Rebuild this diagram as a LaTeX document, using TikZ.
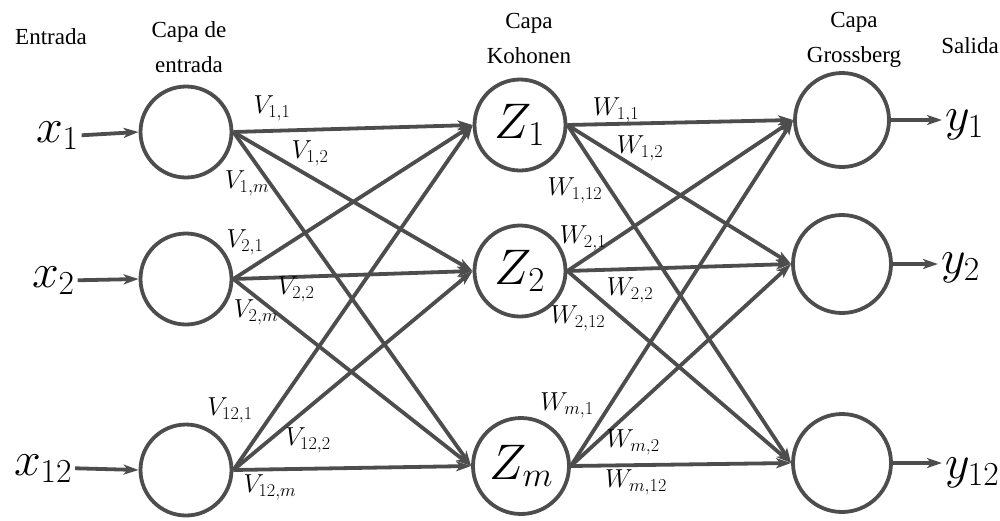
\RequirePackage{fix-cm}
\documentclass[tikz,border=0pt]{standalone}
\usepackage[no-math]{fontspec}
\setmainfont{Liberation Serif}
\usetikzlibrary{arrows.meta}
\definecolor{linec}{HTML}{4D4D4D}
\begin{document}
\begin{tikzpicture}[x=1pt,y=-1pt,
  neuron/.style={circle,draw=linec,line width=3.8pt,minimum size=91pt,inner sep=0pt,font=\fontsize{50}{52}\selectfont},
  conn/.style={draw=linec,line width=3.8pt,-{Stealth[length=15pt,width=10pt,inset=4pt]}},
  big/.style={inner sep=0pt,outer sep=3pt,font=\fontsize{48}{50}\selectfont},
  wlab/.style={inner sep=0pt,font=\fontsize{26}{28}\selectfont},
  txt/.style={inner sep=0pt,align=center,font=\fontsize{23}{35}\selectfont}]
\useasboundingbox (0,0) rectangle (1000,520);
% layer titles
\node[txt] (t0) at (51,37) {Entrada};
\node[txt] (t1) at (189,47) {Capa de\\entrada};
\node[txt] (t2) at (529,38) {Capa\\Kohonen};
\node[txt] (t3) at (854,40) {Capa\\Grossberg};
\node[txt] (t4) at (970,46) {Salida};
% neurons
\node[neuron] (i1) at (186,132) {};
\node[neuron] (i2) at (186,279) {};
\node[neuron] (i3) at (186,470) {};
\node[neuron] (z1) at (520,125) {$Z_1$};
\node[neuron] (z2) at (520,271) {$Z_2$};
\node[neuron,minimum size=96pt] (z3) at (521,466) {$Z_m$};
\node[neuron,minimum size=94pt] (o1) at (842,120) {};
\node[neuron,minimum size=98pt] (o2) at (842,264) {};
\node[neuron,minimum size=98pt] (o3) at (842,463) {};
% inputs / outputs
\node[big,anchor=base west] (x1) at (33,142) {$x_1$};
\node[big,anchor=base west] (x2) at (29,287) {$x_2$};
\node[big,anchor=base west] (x3) at (11,475) {$x_{12}$};
\node[big,anchor=base west] (y1) at (942,130) {$y_1$};
\node[big,anchor=base west] (y2) at (938,273) {$y_2$};
\node[big,anchor=base west] (y3) at (942,478) {$y_{12}$};
\draw[conn] (x1.east) -- (i1.west);
\draw[conn] (x2.east) -- (i2.west);
\draw[conn] (x3.east) -- (i3.west);
\draw[conn] (o1.east) -- (o1.east -| y1.west);
\draw[conn] (o2.east) -- (o2.east -| y2.west);
\draw[conn] (o3.east) -- (o3.east -| y3.west);
% connections
\foreach \a in {i1,i2,i3}{
  \foreach \b in {z1,z2,z3}{
    \draw[conn] (\a.east) -- (\b.west);
  }
}
\foreach \a in {z1,z2,z3}{
  \foreach \b in {o1,o2,o3}{
    \draw[conn] (\a.east) -- (\b.west);
  }
}
% weight labels
\node[wlab] (v11) at (272,108) {$V_{1,1}$};
\node[wlab] (v12) at (310,153) {$V_{1,2}$};
\node[wlab] (v1m) at (247,183) {$V_{1,m}$};
\node[wlab] (v21) at (245,242) {$V_{2,1}$};
\node[wlab] (v22) at (296,289) {$V_{2,2}$};
\node[wlab] (v2m) at (256,312) {$V_{2,m}$};
\node[wlab] (v31) at (230,410) {$V_{12,1}$};
\node[wlab] (v32) at (308,440) {$V_{12,2}$};
\node[wlab] (v3m) at (270,487) {$V_{12,m}$};
\node[wlab] (w11) at (616,110) {$W_{1,1}$};
\node[wlab] (w12) at (640,148) {$W_{1,2}$};
\node[wlab] (w1m) at (575,190) {$W_{1,12}$};
\node[wlab] (w21) at (583,238) {$W_{2,1}$};
\node[wlab] (w22) at (630,290) {$W_{2,2}$};
\node[wlab] (w2m) at (578,318) {$W_{2,12}$};
\node[wlab] (w31) at (567,405) {$W_{m,1}$};
\node[wlab] (w32) at (633,442) {$W_{m,2}$};
\node[wlab] (w3m) at (636,482) {$W_{m,12}$};
\end{tikzpicture}
\end{document}
